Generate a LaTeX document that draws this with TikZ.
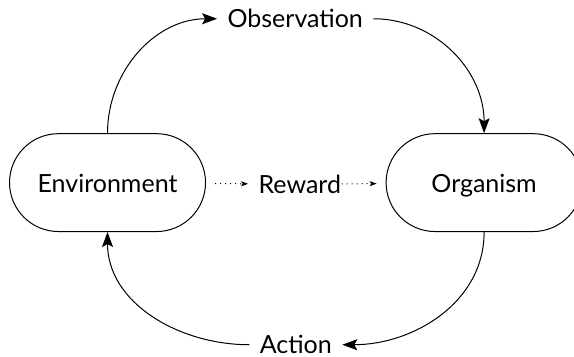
\documentclass[tikz,border=0pt]{standalone}
\usepackage{fontspec}
\setmainfont{Lato}
\usetikzlibrary{shapes.misc,arrows.meta}
\begin{document}
\begin{tikzpicture}[
	font=\fontsize{12.5pt}{15pt}\selectfont,line width=0.5pt,
	agent/.style={draw,rounded rectangle,minimum width=3.68cm,minimum height=1.72cm,text height=2ex,text depth=0.1ex},
	signal/.style={inner sep=5pt},
	flow/.style={-{Stealth[length=7.5pt,width=5.5pt,inset=1.5pt]}},
	dotflow/.style={dotted,-{Stealth[length=3.5pt,width=2.5pt,inset=0.8pt]}}]
	\useasboundingbox (0,0) rectangle (10.09,6.27);
	\node[agent](env)at(1.89,3.06){Environment};
	\node[agent](org)at(8.51,3.06){Organism};
	\node[signal](obs)at(5.19,5.94){Observation};
	\node[signal](rew)at(5.27,3.03){Reward};
	\node[signal](act)at(5.20,0.21){Action};
	\draw[flow](env.north)to[out=90,in=180](obs.west);
	\draw[flow](obs.east)to[out=0,in=90](org.north);
	\draw[flow](org.south)to[out=-90,in=0](act.east);
	\draw[flow](act.west)to[out=180,in=-90](env.south);
	\draw[dotflow,shorten <=4.5pt](env)--(rew);
	\draw[dotflow,shorten <=-5pt,shorten >=4.5pt](rew)--(org);
\end{tikzpicture}
\end{document}
